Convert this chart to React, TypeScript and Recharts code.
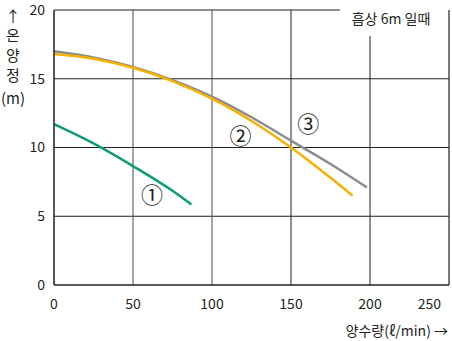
import { LineChart, Line, XAxis, YAxis, ReferenceLine, ReferenceDot } from "recharts";

// 양수량(ℓ/min) vs 전양정(m), 흡상 6m
const pump1 = [
  { q: 0, h: 11.7 },
  { q: 25, h: 10.3 },
  { q: 50, h: 8.65 },
  { q: 75, h: 6.85 },
  { q: 87, h: 5.85 },
];

const pump2 = [
  { q: 0, h: 16.8 },
  { q: 25, h: 16.46 },
  { q: 50, h: 15.8 },
  { q: 75, h: 14.83 },
  { q: 100, h: 13.55 },
  { q: 125, h: 11.93 },
  { q: 150, h: 10.0 },
  { q: 175, h: 7.8 },
  { q: 189, h: 6.5 },
];

const pump3 = [
  { q: 0, h: 17.0 },
  { q: 25, h: 16.55 },
  { q: 50, h: 15.85 },
  { q: 75, h: 14.9 },
  { q: 100, h: 13.7 },
  { q: 125, h: 12.2 },
  { q: 150, h: 10.5 },
  { q: 175, h: 8.8 },
  { q: 198, h: 7.1 },
];

const xTicks = [0, 50, 100, 150, 200, 250];
const yTicks = [0, 5, 10, 15, 20];
const curveMarks = [
  { q: 62, h: 6.5, text: "①" },
  { q: 118, h: 10.8, text: "②" },
  { q: 161, h: 11.7, text: "③" },
];

const FONT = "'Noto Sans CJK KR', 'Noto Sans', sans-serif";
const INK = "#231f20";
const GRID = "#4a4a4a";

function YTitle() {
  const rows = ["↑", "온", "양", "정", "(m)"];
  const ys = [15, 34, 54, 74, 97];
  return (
    <g>
      {rows.map((r, i) => (
        <text key={i} x={13} y={ys[i]} textAnchor="middle" dominantBaseline="central"
          fontSize={15} fill={INK} fontFamily={FONT}>{r}</text>
      ))}
    </g>
  );
}

function XTick(props: any) {
  const { x, y, payload } = props;
  const last = payload.value === 250;
  return (
    <text x={last ? x + 1 : x} y={y + 8} textAnchor={last ? "end" : "middle"} dominantBaseline="central"
      fontSize={14} fill={INK} fontFamily={FONT}>
      {payload.value}
    </text>
  );
}

export default function App() {
  return (
    <div style={{ position: "absolute", left: 0, top: 0, background: "#fff" }}>
      <LineChart width={452} height={341} margin={{ top: 10, right: 3, left: 0, bottom: 0 }}
        style={{ fontFamily: FONT }}>
        <XAxis type="number" dataKey="q" domain={[0, 250]} ticks={xTicks} allowDuplicatedCategory={false}
          height={56} tickSize={0} tickMargin={10} tickLine={false}
          axisLine={{ stroke: INK, strokeWidth: 1.5 }}
          tick={<XTick />}
          label={{
            content: () => (
              <text x={448} y={330} textAnchor="end" dominantBaseline="central" fontSize={14} fill={INK} fontFamily={FONT}>
                양수량(ℓ/min) →
              </text>
            ),
          }} />
        <YAxis type="number" domain={[0, 20]} ticks={yTicks} width={54}
          tickSize={0} tickMargin={9} tickLine={false}
          axisLine={{ stroke: INK, strokeWidth: 1.5 }}
          tick={{ fontSize: 14, fill: INK, fontFamily: FONT }}
          label={{ content: () => <YTitle /> }} />

        {[5, 10, 15].map((v) => (
          <ReferenceLine key={"h" + v} y={v} stroke={INK} strokeWidth={1} />
        ))}
        {[50, 100, 150].map((v) => (
          <ReferenceLine key={"v" + v} x={v} stroke={v === 150 ? INK : GRID} strokeWidth={1} />
        ))}
        <ReferenceLine segment={[{ x: 200, y: 0 }, { x: 200, y: 18.1 }]} stroke={INK} strokeWidth={1} />
        <ReferenceLine segment={[{ x: 0, y: 20 }, { x: 181, y: 20 }]} stroke={INK} strokeWidth={1.2} />
        <ReferenceLine x={250} stroke={INK} strokeWidth={1.2} />

        <Line data={pump1} dataKey="h" type="monotone" stroke="#0d9b78" strokeWidth={2.5}
          dot={false} activeDot={false} isAnimationActive={false} />
        <Line data={pump3} dataKey="h" type="monotone" stroke="#8c8c8c" strokeWidth={2.5}
          dot={false} activeDot={false} isAnimationActive={false} />
        <Line data={pump2} dataKey="h" type="monotone" stroke="#f5b100" strokeWidth={2.5}
          dot={false} activeDot={false} isAnimationActive={false} />

        {curveMarks.map((m) => (
          <ReferenceDot key={m.text} x={m.q} y={m.h} r={0} stroke="none"
            label={{ value: m.text, position: "center", fontSize: 22, fill: INK, fontFamily: FONT }} />
        ))}
        <ReferenceDot x={250} y={20} r={0} stroke="none"
          label={{
            content: () => (
              <text x={391} y={18} textAnchor="middle" dominantBaseline="central" fontSize={14} fill={INK} fontFamily={FONT}>
                흡상 6m 일때
              </text>
            ),
          }} />
      </LineChart>
    </div>
  );
}
